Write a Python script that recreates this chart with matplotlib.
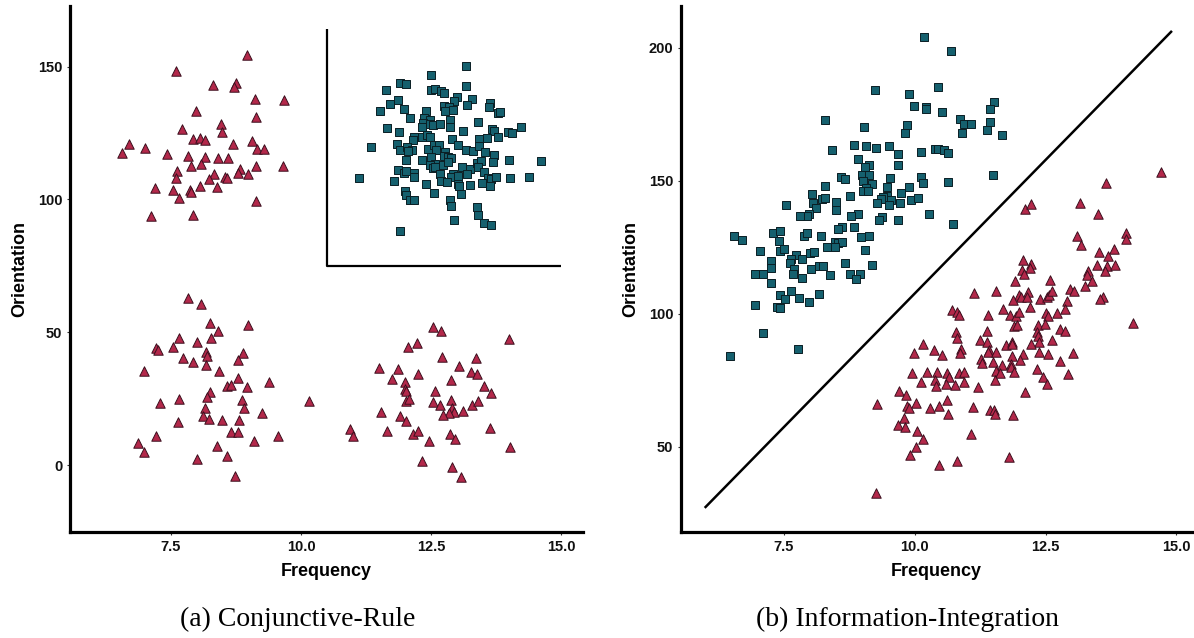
import numpy as np
import matplotlib
matplotlib.use("Agg")
import matplotlib.pyplot as plt

# category colours
red_fill = '#b3284a'
red_edge = '#3b0f1e'
teal_fill = '#15606e'
teal_edge = '#0a1e24'

# ---- (a) Conjunctive-Rule: (frequency, orientation) ----
cr_tri_upper = [(8.96,154.3),(7.60,148.5),(8.30,143.2),(8.75,143.9),(8.72,142.4),(9.11,137.8),(9.68,137.5),
    (7.99,133.4),(9.13,131.1),(8.46,128.5),(8.49,125.3),(7.72,126.4),(7.92,122.9),(8.05,123.0),(8.16,122.5),
    (8.70,120.8),(9.06,121.9),(9.16,119.1),(9.29,119.0),(6.69,120.9),(6.56,117.6),(7.00,119.2),(7.42,117.0),
    (7.83,116.5),(8.15,115.9),(8.40,115.5),(8.59,115.4),(7.88,112.5),(8.07,113.2),(7.61,110.6),(8.83,111.3),
    (8.79,109.9),(8.99,109.6),(9.13,112.7),(9.65,112.5),(8.33,109.6),(7.59,107.9),(8.24,107.7),(8.53,108.3),
    (8.58,108.2),(7.20,104.3),(7.54,103.7),(7.86,103.5),(7.89,102.9),(8.06,105.2),(8.38,104.7),(7.65,100.4),
    (9.14,99.5),(7.12,93.7),(7.93,94.2)]
cr_tri_lowleft = [(7.82,62.8),(8.08,60.7),(8.26,53.4),(8.99,52.6),(8.41,50.5),(7.66,47.7),(8.01,46.3),(8.27,48.0),
    (7.21,44.1),(7.26,43.3),(7.54,44.3),(8.17,42.6),(8.19,41.2),(8.88,42.2),(8.79,39.5),(7.74,40.3),(7.92,38.8),
    (8.17,37.7),(8.42,35.5),(6.99,35.4),(8.79,32.6),(8.58,29.9),(8.66,30.1),(8.96,29.4),(9.39,31.4),(8.26,27.6),
    (8.19,25.5),(8.87,24.6),(8.90,21.6),(7.29,23.5),(7.66,24.7),(10.15,24.0),(8.15,21.3),(8.11,18.6),(8.23,17.4),
    (8.48,17.1),(8.81,17.1),(9.25,19.7),(7.63,16.2),(8.66,12.5),(8.78,12.5),(7.22,10.9),(9.56,11.0),(6.86,8.3),
    (9.09,8.9),(8.38,7.0),(6.99,5.1),(8.58,3.5),(8.01,2.2),(8.73,-4.2)]
cr_tri_lowright = [(12.54,51.9),(12.70,50.6),(13.99,47.3),(12.06,44.6),(12.22,45.9),(12.71,40.5),(13.37,40.3),
    (11.49,36.7),(11.87,36.3),(13.03,37.2),(13.26,35.2),(13.38,34.4),(11.75,32.4),(11.99,31.4),(12.24,34.1),
    (12.88,32.2),(12.00,28.8),(12.02,27.9),(13.52,29.9),(13.65,27.2),(12.57,28.0),(12.01,24.3),(12.08,25.0),
    (12.54,23.8),(12.88,24.6),(12.68,22.6),(12.90,21.4),(12.95,20.0),(12.84,19.7),(12.72,18.9),(13.12,20.4),
    (13.28,22.6),(13.40,24.0),(11.54,20.1),(11.91,18.4),(12.01,16.7),(10.95,13.7),(10.99,10.8),(11.65,12.8),
    (12.15,11.7),(12.24,13.0),(12.87,11.7),(12.96,9.7),(12.46,8.9),(13.63,13.9),(14.01,6.8),(12.33,1.5),
    (12.90,-0.6),(13.08,-4.4)]
cr_squares = [(13.17,150.4),(12.49,146.8),(11.91,143.7),(12.02,143.4),(13.18,142.7),(11.64,141.0),(12.49,141.2),
    (12.57,141.6),(12.69,140.7),(12.75,140.0),(12.99,138.5),(12.95,137.0),(13.28,137.7),(11.86,137.3),(11.72,136.0),
    (13.19,135.6),(13.63,136.3),(13.61,134.8),(11.51,133.2),(11.98,134.1),(12.40,133.4),(12.74,135.1),(12.84,134.7),
    (12.77,133.1),(12.92,133.6),(13.78,132.4),(13.82,132.8),(12.09,130.6),(12.37,130.6),(12.48,129.9),(12.35,128.9),
    (12.48,128.2),(12.54,128.0),(12.67,128.2),(12.87,129.7),(12.87,127.4),(13.40,129.3),(11.65,126.8),(11.88,125.2),
    (12.33,127.4),(13.12,125.8),(13.67,126.4),(13.71,125.9),(13.97,125.3),(14.06,124.9),(14.22,127.4),(12.18,123.5),
    (12.15,122.5),(12.32,123.5),(12.42,124.4),(12.48,123.6),(12.90,122.6),(13.42,122.6),(13.57,123.0),(13.78,123.4),
    (11.35,119.9),(11.84,120.9),(11.90,118.6),(12.04,119.9),(12.13,118.7),(12.06,118.1),(12.44,119.0),(12.56,120.6),
    (12.65,120.6),(12.60,118.7),(12.76,117.7),(13.01,120.4),(13.17,118.5),(13.30,118.1),(13.42,120.1),(13.53,117.9),
    (12.49,116.1),(12.74,116.5),(12.82,116.1),(12.88,115.6),(12.02,115.0),(12.33,114.7),(13.70,116.6),(13.99,115.0),
    (14.61,114.3),(12.58,113.5),(12.47,112.8),(12.73,113.1),(12.83,114.0),(12.54,111.7),(12.58,112.3),(13.10,112.1),
    (13.24,111.3),(13.39,113.8),(13.45,114.5),(13.69,114.0),(13.40,112.1),(11.86,111.2),(11.97,109.9),(12.01,110.6),
    (12.18,110.1),(12.18,108.6),(12.68,109.6),(12.92,109.7),(12.88,108.4),(13.01,108.7),(13.19,109.7),(13.52,110.3),
    (13.60,108.2),(13.66,107.6),(13.74,108.6),(14.01,108.1),(14.39,108.4),(11.12,107.9),(11.78,107.1),(12.40,105.7),
    (12.69,106.8),(12.80,106.4),(13.01,105.9),(13.04,104.9),(13.24,105.4),(13.48,106.1),(13.64,104.9),(11.99,103.3),
    (12.02,101.5),(12.09,99.6),(12.17,99.6),(12.55,102.4),(13.08,101.9),(12.87,99.8),(12.88,97.4),(13.38,97.0),
    (13.40,94.0),(12.94,92.4),(13.51,91.1),(13.66,90.5),(11.90,88.0)]
cr_bound_x = [10.5, 10.5, 15.0]
cr_bound_y = [164, 75, 75]

# ---- (b) Information-Integration ----
ii_squares = [(10.18,203.9),(10.69,198.6),(10.45,185.4),(9.24,184.2),(9.89,182.7),(9.99,178.3),(10.21,177.7),
    (10.22,176.9),(10.52,175.7),(11.51,179.5),(11.44,176.9),(8.29,172.8),(9.02,170.4),(9.86,170.9),(9.81,168.0),
    (10.87,173.2),(10.94,171.2),(11.07,171.3),(11.43,172.0),(11.39,169.0),(10.90,167.8),(11.66,167.1),(8.41,161.4),
    (8.83,163.3),(9.07,162.9),(9.26,162.4),(9.50,163.1),(9.67,160.0),(10.12,161.0),(10.38,162.1),(10.45,162.0),
    (10.55,161.4),(10.63,160.4),(8.92,158.1),(9.13,156.1),(9.04,155.1),(9.67,156.1),(8.58,151.5),(8.66,150.6),
    (9.00,152.0),(9.13,152.1),(9.01,150.1),(9.52,151.2),(10.12,151.6),(10.16,149.0),(10.64,149.5),(11.49,152.0),
    (8.28,148.2),(9.19,148.7),(9.07,147.3),(9.01,146.1),(9.11,146.0),(9.46,147.8),(9.89,147.8),(8.04,145.2),
    (8.76,144.3),(8.22,143.1),(8.29,143.6),(9.46,144.3),(9.39,144.0),(9.36,143.2),(9.28,141.7),(9.55,142.6),
    (9.51,140.8),(9.74,145.6),(9.72,141.8),(9.92,142.6),(10.06,143.5),(8.49,142.1),(8.05,141.5),(8.11,139.6),
    (8.49,138.9),(7.53,140.8),(7.98,137.7),(7.93,136.7),(7.81,136.7),(8.92,137.6),(8.78,136.6),(9.37,136.4),
    (9.31,135.1),(9.67,135.1),(10.27,137.7),(10.73,133.9),(8.61,132.7),(8.53,131.9),(8.83,132.7),(9.12,129.4),
    (8.97,128.7),(7.28,130.5),(7.43,131.2),(6.54,129.2),(6.70,127.7),(7.40,127.5),(7.89,129.4),(7.93,130.2),
    (8.21,129.2),(8.47,127.0),(8.53,126.5),(8.60,127.0),(8.48,125.0),(8.32,125.3),(9.04,123.9),(7.04,123.5),
    (7.42,123.8),(7.49,124.3),(7.99,123.0),(8.07,123.2),(7.73,122.0),(7.85,120.5),(7.63,120.5),(7.62,119.0),
    (7.25,120.0),(7.25,117.3),(7.69,117.0),(7.68,114.8),(8.02,117.0),(8.16,117.9),(8.25,117.9),(8.67,119.1),
    (9.18,118.5),(8.38,114.6),(8.76,115.1),(8.95,114.8),(8.87,113.1),(7.85,113.6),(6.94,115.1),(7.09,115.1),
    (7.26,111.7),(7.63,108.6),(7.42,106.9),(7.52,105.7),(7.79,106.0),(7.98,104.6),(8.17,107.4),(6.94,103.5),
    (7.37,102.5),(7.42,102.1),(7.09,92.9),(7.76,86.6),(6.46,84.2)]
ii_triangles = [(14.70,153.3),(13.66,149.1),(13.16,141.5),(13.50,137.6),(12.11,139.4),(12.22,141.1),(14.03,130.5),
    (14.03,128.2),(13.11,129.1),(13.18,125.9),(13.52,123.2),(13.80,124.2),(13.69,121.8),(13.49,118.3),(13.67,118.1),
    (13.83,118.4),(13.64,116.2),(13.32,116.0),(13.29,114.7),(13.39,112.3),(13.26,110.5),(12.96,109.5),(13.04,108.5),
    (13.59,106.4),(13.55,105.4),(14.17,96.4),(12.06,120.3),(12.22,118.8),(12.21,117.2),(12.05,116.5),(12.09,114.9),
    (11.91,112.5),(12.58,112.9),(11.14,107.9),(11.55,108.5),(12.17,108.3),(12.00,107.1),(12.04,106.5),(12.15,106.5),
    (11.87,105.3),(12.39,105.5),(12.52,106.2),(12.57,106.9),(12.62,108.5),(12.91,104.8),(12.87,101.9),(12.21,102.4),
    (11.68,101.8),(10.71,101.4),(10.81,100.6),(10.84,99.5),(11.40,99.6),(11.82,99.4),(11.93,99.0),(12.00,100.6),
    (12.50,100.4),(12.54,99.3),(12.71,100.3),(11.90,95.6),(11.96,95.9),(12.36,95.9),(12.49,96.1),(12.77,94.4),
    (12.88,93.4),(10.78,93.1),(10.81,91.1),(11.39,93.5),(12.34,93.2),(12.36,91.5),(12.37,89.3),(12.63,90.1),
    (11.25,90.2),(11.39,89.6),(11.74,88.2),(11.85,89.6),(11.86,88.7),(12.22,88.6),(10.89,86.7),(10.86,85.2),
    (11.41,86.3),(11.40,85.5),(11.56,85.6),(11.86,84.2),(12.06,84.8),(12.37,85.7),(12.54,85.0),(13.03,85.2),
    (10.16,88.6),(9.99,85.2),(10.37,86.3),(10.52,84.5),(11.27,83.1),(11.29,81.7),(11.50,81.8),(12.01,82.5),
    (12.77,82.3),(11.67,80.7),(11.83,81.0),(11.84,80.0),(11.89,78.1),(11.55,78.6),(11.62,77.9),(11.54,75.2),
    (12.34,79.2),(12.46,76.3),(12.53,73.7),(12.93,77.3),(9.95,77.6),(10.24,78.3),(10.43,78.1),(10.62,77.6),
    (10.65,76.4),(10.84,77.6),(10.94,78.1),(10.12,74.2),(10.39,75.0),(10.41,72.8),(10.60,73.6),(10.76,73.4),
    (10.94,74.2),(11.20,72.4),(12.11,70.7),(9.69,71.1),(9.84,69.4),(9.27,66.2),(10.03,66.4),(9.85,65.2),
    (9.89,64.7),(10.30,64.5),(10.47,65.5),(10.62,67.7),(10.64,62.4),(11.11,65.0),(11.43,64.0),(11.51,64.0),
    (11.54,62.2),(11.87,61.8),(9.79,60.8),(9.68,58.3),(9.81,57.4),(10.05,55.9),(10.15,53.1),(10.02,50.1),
    (9.91,47.1),(11.07,55.0),(10.47,43.0),(10.81,44.6),(11.81,46.2),(9.25,32.5)]
ii_bound_x = [6.0, 14.9]
ii_bound_y = [27.4, 206.0]

xticks = [7.5, 10.0, 12.5, 15.0]

sans = 'Liberation Sans'


def style_axes(ax, yticks):
    for side in ['top', 'right']:
        ax.spines[side].set_visible(False)
    for side in ['left', 'bottom']:
        ax.spines[side].set_linewidth(2.3)
        ax.spines[side].set_color('black')
    ax.set_xticks(xticks)
    ax.set_xticklabels([f'{t:.1f}' for t in xticks])
    ax.set_yticks(yticks)
    ax.set_yticklabels([str(t) for t in yticks])
    ax.tick_params(length=2.5, width=0.8, color='#333333', pad=3, labelsize=10.5, labelcolor='#111111')
    for lab in ax.get_xticklabels() + ax.get_yticklabels():
        lab.set_fontfamily(sans)
        lab.set_fontweight('bold')
    ax.set_xlabel('Frequency', fontsize=13, fontweight='bold', family=sans, labelpad=7)
    ax.set_ylabel('Orientation', fontsize=13, fontweight='bold', family=sans, labelpad=7)


def scatter_pts(ax, pts, marker):
    arr = np.array(pts)
    if marker == '^':
        ax.scatter(arr[:, 0], arr[:, 1], marker='^', s=6.8**2, c=red_fill,
                   edgecolors=red_edge, linewidths=0.7, zorder=3)
    else:
        ax.scatter(arr[:, 0], arr[:, 1], marker='s', s=5.2**2, c=teal_fill,
                   edgecolors=teal_edge, linewidths=0.7, zorder=3)


fig = plt.figure(figsize=(11.94, 6.38), dpi=100)
ax1 = fig.add_axes([70/1194, 1-532/638, 513/1194, 526/638])
ax2 = fig.add_axes([681/1194, 1-532/638, 511/1194, 526/638])

# panel (a)
scatter_pts(ax1, cr_tri_upper, '^')
scatter_pts(ax1, cr_tri_lowleft, '^')
scatter_pts(ax1, cr_tri_lowright, '^')
scatter_pts(ax1, cr_squares, 's')
ax1.plot(cr_bound_x, cr_bound_y, color='black', lw=1.6, zorder=2, solid_capstyle='butt')
ax1.set_xlim(5.56, 15.42)
ax1.set_ylim(-25.2, 172.8)
style_axes(ax1, [0, 50, 100, 150])

# panel (b)
scatter_pts(ax2, ii_squares, 's')
scatter_pts(ax2, ii_triangles, '^')
ax2.plot(ii_bound_x, ii_bound_y, color='black', lw=1.8, zorder=2)
ax2.set_xlim(5.53, 15.30)
ax2.set_ylim(18, 215.7)
style_axes(ax2, [50, 100, 150, 200])

fig.text(298/1194, 1-619/638, '(a) Conjunctive-Rule', ha='center', va='center',
         fontsize=20, family='Liberation Serif')
fig.text(907/1194, 1-619/638, '(b) Information-Integration', ha='center', va='center',
         fontsize=20, family='Liberation Serif')

fig.savefig('out.png', dpi=100)
